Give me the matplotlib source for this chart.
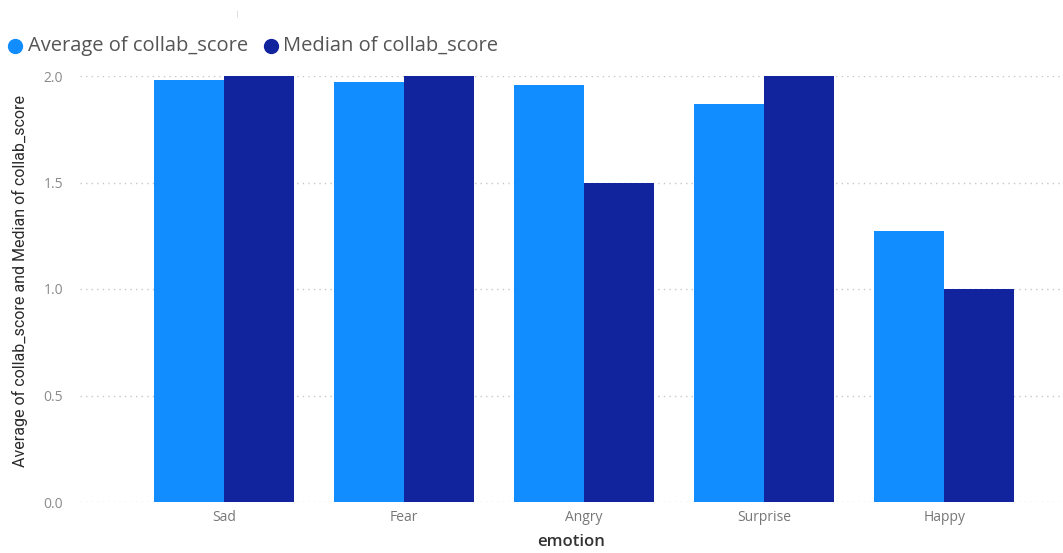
import matplotlib.pyplot as plt
from matplotlib.lines import Line2D
import numpy as np

emotions = ["Sad", "Fear", "Angry", "Surprise", "Happy"]
avg_score = [1.98, 1.97, 1.96, 1.87, 1.27]
median_score = [2.0, 2.0, 1.5, 2.0, 1.0]
yticks = [0.0, 0.5, 1.0, 1.5, 2.0]

plt.rcParams['font.family'] = ['Open Sans', 'DejaVu Sans']

fig = plt.figure(figsize=(10.63, 5.53), dpi=100)
ax = fig.add_axes([80 / 1063, 51 / 553, 983 / 1063, 426 / 553])

x = np.arange(len(emotions))
w = 0.39
ax.bar(x - w / 2, avg_score, w, color="#118DFF", zorder=2)
ax.bar(x + w / 2, median_score, w, color="#12239E", zorder=2)

ax.set_xlim(-0.8, 4.66)
ax.set_ylim(0, 2.0)
ax.set_yticks(yticks)
ax.set_yticklabels([f"{t:.1f}" for t in yticks], color="#8a8a8a", fontsize=10)
ax.set_xticks(x)
ax.set_xticklabels(emotions, color="#777777", fontsize=10)
ax.tick_params(length=0, pad=6)
ax.tick_params(axis="y", pad=12)
ax.grid(axis="y", linestyle=(0, (1, 3)), color="#c8c8c8", linewidth=1, zorder=0)
for s in ax.spines.values():
    s.set_visible(False)

ax.set_xlabel("emotion", fontsize=12, color="#333333", fontweight="semibold", labelpad=6)
fig.text(20 / 1063, (553 - 281) / 553, "Average of collab_score and Median of collab_score",
         rotation=90, ha="center", va="center", fontsize=11.5, color="#2a2a2a",
         family=['Roboto', 'DejaVu Sans'])

# legend row
fig.text(237 / 1063, 1 - 15 / 553, "|", fontsize=6, color="#cccccc", ha="center", va="center")
ly = 1 - 46 / 553
fig.add_artist(Line2D([15 / 1063], [ly], marker="o", markersize=10, color="#118DFF",
                      transform=fig.transFigure))
fig.text(28 / 1063, ly, "Average of collab_score", fontsize=14.5, color="#555555", va="center")
fig.add_artist(Line2D([271 / 1063], [ly], marker="o", markersize=10, color="#12239E",
                      transform=fig.transFigure))
fig.text(283 / 1063, ly, "Median of collab_score", fontsize=14.5, color="#555555", va="center")

fig.savefig("out.png", dpi=100)
